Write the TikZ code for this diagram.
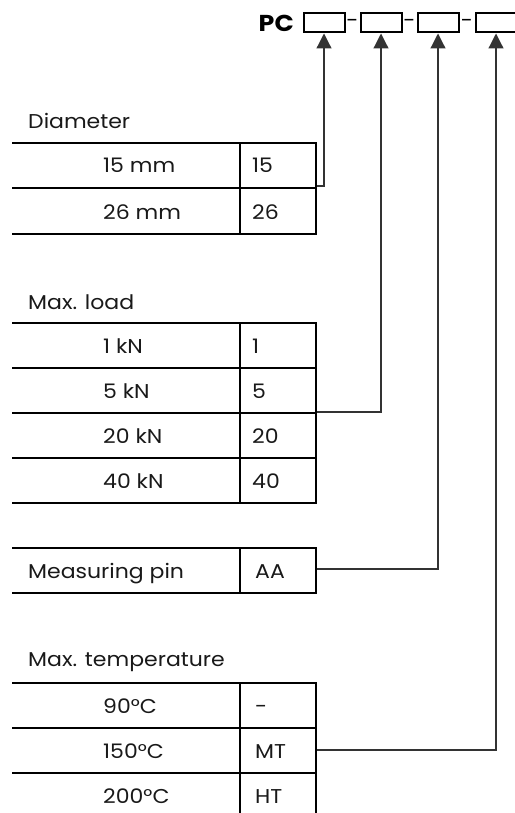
\documentclass[tikz,border=0pt]{standalone}
\usepackage{fontspec}
\setmainfont{Poppins}
\newfontfamily\cgfont[FakeStretch=1.1]{Poppins}
\usetikzlibrary{arrows.meta}
\begin{document}
\begin{tikzpicture}[x=1pt,y=-1pt,
  tl/.style={line width=2pt, line cap=rect},
  conn/.style={line width=1.2pt, draw=black!80},
  arr/.style={conn, -{Triangle[width=15pt,length=15pt]}},
  txt/.style={font=\cgfont\fontsize{20}{23}\selectfont, text=black!90, inner sep=0pt, anchor=base west},
  codebox/.style={draw, line width=2pt, minimum width=41pt, minimum height=19pt, inner sep=0pt},
  dashtxt/.style={font=\cgfont\fontsize{20}{23}\selectfont, inner sep=0pt}]
\useasboundingbox (0,0) rectangle (514,813);

% header
\node[font=\cgfont\bfseries\fontsize{23}{27}\selectfont, inner sep=0pt, anchor=east] (pc) at (294,23) {PC};
\node[codebox] (b1) at (324,23) {};
\node[codebox] (b2) at (381,23) {};
\node[codebox] (b3) at (438,23) {};
\node[codebox] (b4) at (496,23) {};
\node[dashtxt] (h1) at (352.5,23) {-};
\node[dashtxt] (h2) at (409.5,23) {-};
\node[dashtxt] (h3) at (467,23) {-};

% Diameter table
\node[txt] (tdia) at (28,129) {Diameter};
\draw[tl] (13,143) -- (316,143) (13,188) -- (316,188) (13,234) -- (316,234);
\draw[tl] (240,143) -- (240,234) (316,143) -- (316,234);
\node[txt] (d1) at (103,173) {15 mm};
\node[txt] (d1c) at (252,173) {15};
\node[txt] (d2) at (103,219) {26 mm};
\node[txt] (d2c) at (252,219) {26};

% Max load table
\node[txt] (tload) at (28,309) {Max. load};
\draw[tl] (13,323) -- (316,323) (13,368) -- (316,368) (13,413) -- (316,413) (13,458) -- (316,458) (13,503) -- (316,503);
\draw[tl] (240,323) -- (240,503) (316,323) -- (316,503);
\node[txt] (l1) at (103,353) {1 kN};
\node[txt] (l1c) at (252,353) {1};
\node[txt] (l2) at (103,398) {5 kN};
\node[txt] (l2c) at (252,398) {5};
\node[txt] (l3) at (103,443) {20 kN};
\node[txt] (l3c) at (252,443) {20};
\node[txt] (l4) at (103,488) {40 kN};
\node[txt] (l4c) at (252,488) {40};

% Measuring pin
\draw[tl] (13,548) -- (316,548) (13,593) -- (316,593);
\draw[tl] (240,548) -- (240,593) (316,548) -- (316,593);
\node[txt] (p1) at (28,578) {Measuring pin};
\node[txt] (p1c) at (255,578) {AA};

% Max temperature
\node[txt] (ttemp) at (28,666) {Max. temperature};
\draw[tl] (13,683) -- (316,683) (13,728) -- (316,728) (13,773) -- (316,773) (13,818) -- (316,818);
\draw[tl] (240,683) -- (240,818) (316,683) -- (316,818);
\node[txt] (t1) at (103,713) {90°C};
\node[txt] (t1c) at (255,713) {-};
\node[txt] (t2) at (103,758) {150°C};
\node[txt] (t2c) at (255,758) {MT};
\node[txt] (t3) at (103,803) {200°C};
\node[txt] (t3c) at (255,803) {HT};

% connectors
\coordinate (c1) at (317,186);
\coordinate (c2) at (317,412);
\coordinate (c3) at (317,569);
\coordinate (c4) at (317,750);
\draw[arr] (c1) -| (b1.south);
\draw[arr] (c2) -| (b2.south);
\draw[arr] (c3) -| (b3.south);
\draw[arr] (c4) -| (b4.south);
\end{tikzpicture}
\end{document}
